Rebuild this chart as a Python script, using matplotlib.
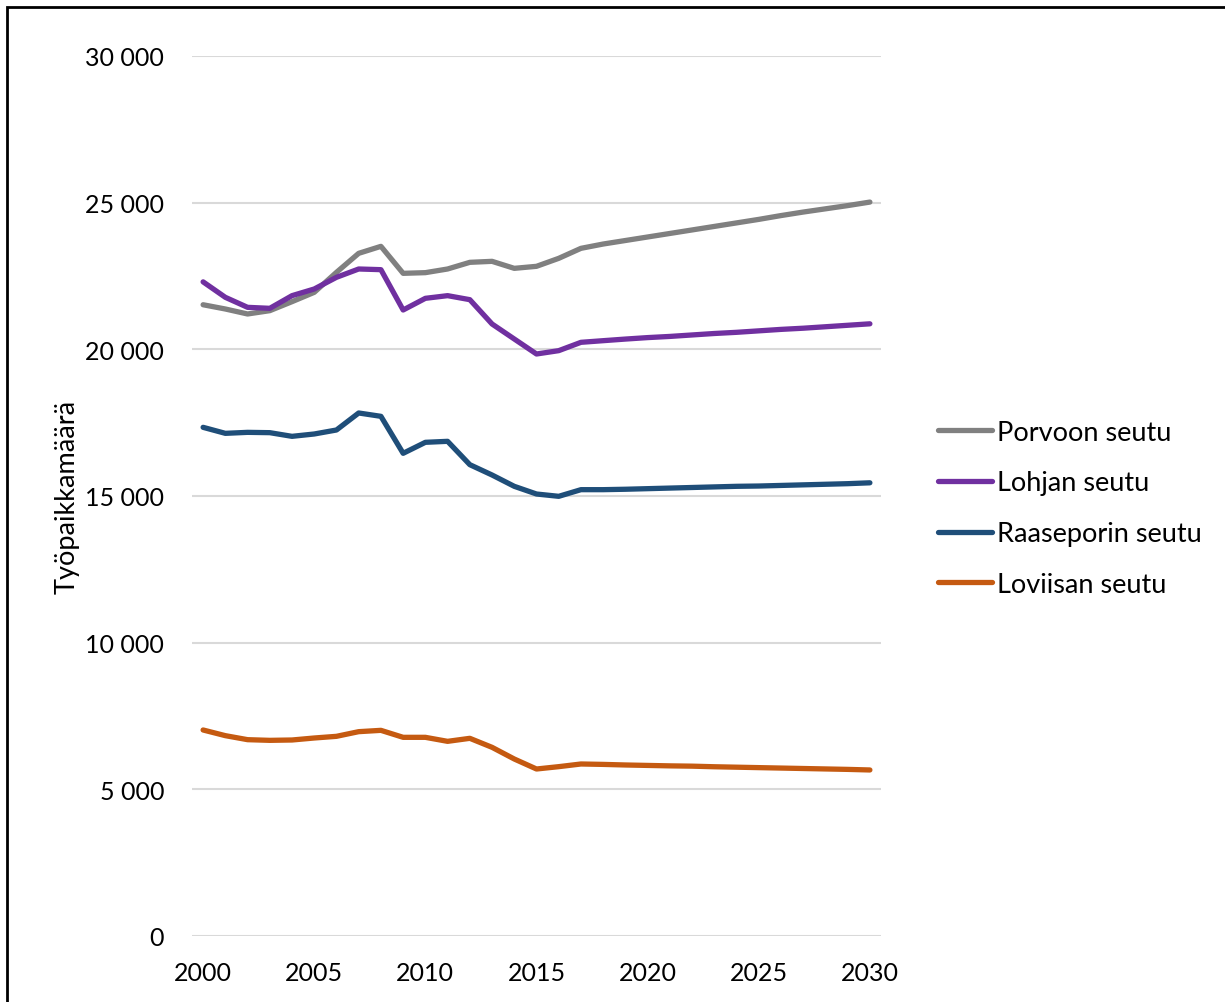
import matplotlib.pyplot as plt
from matplotlib.patches import Rectangle
from matplotlib.ticker import FuncFormatter

plt.rcParams['font.family'] = ['Lato', 'DejaVu Sans']

years = list(range(2000, 2031))

porvoo = [21520, 21375, 21205, 21318, 21625, 21943, 22625, 23273, 23511, 22591,
          22614, 22739, 22966, 23000, 22761, 22830, 23102, 23443, 23590, 23710,
          23830, 23950, 24070, 24190, 24310, 24430, 24560, 24680, 24790, 24900, 25020]
lohja = [22300, 21773, 21432, 21398, 21830, 22057, 22455, 22739, 22716, 21341,
         21739, 21830, 21693, 20864, 20352, 19841, 19955, 20239, 20295, 20350,
         20400, 20440, 20490, 20540, 20580, 20630, 20680, 20720, 20770, 20820, 20870]
raasepori = [17341, 17136, 17170, 17159, 17034, 17114, 17250, 17830, 17716, 16455,
             16830, 16864, 16068, 15716, 15330, 15068, 14989, 15216, 15216, 15230,
             15250, 15270, 15290, 15310, 15330, 15340, 15360, 15380, 15400, 15420, 15450]
loviisa = [7023, 6830, 6693, 6670, 6682, 6750, 6807, 6966, 7011, 6773,
           6773, 6636, 6739, 6432, 6034, 5693, 5773, 5864, 5850, 5830,
           5815, 5800, 5790, 5770, 5755, 5740, 5725, 5710, 5695, 5680, 5660]

series = [
    ("Porvoon seutu", porvoo, "#808080"),
    ("Lohjan seutu", lohja, "#7030A0"),
    ("Raaseporin seutu", raasepori, "#1F4E79"),
    ("Loviisan seutu", loviisa, "#C55A11"),
]

fig = plt.figure(figsize=(12.25, 10.03), dpi=100)
ax = fig.add_axes([192 / 1225, 1 - 937 / 1003, (881 - 192) / 1225, (937 - 57) / 1003])

for name, vals, color in series:
    ax.plot(years, vals, color=color, linewidth=3.8, label=name, solid_capstyle='round')

ax.set_xlim(1999.5, 2030.5)
ax.set_ylim(0, 30000)
ax.set_xticks(range(2000, 2031, 5))
ax.set_yticks(range(0, 30001, 5000))
ax.yaxis.set_major_formatter(FuncFormatter(lambda v, p: f"{int(v):,}".replace(",", " ")))
ax.grid(axis='y', color='#D9D9D9', linewidth=1.5)
ax.set_axisbelow(True)
for s in ax.spines.values():
    s.set_visible(False)
ax.tick_params(length=0, labelsize=18, colors='black')
ax.tick_params(axis='y', pad=20)
ax.tick_params(axis='x', pad=18)
ax.set_ylabel("Työpaikkamäärä", fontsize=19.5, labelpad=4)

ax.legend(loc='center left', bbox_to_anchor=(1.047, 0.486), frameon=False, fontsize=19.5,
          handlelength=2.0, handletextpad=0.18, labelspacing=0.95)

fig.patches.append(Rectangle((7 / 1225, -0.01), 1.2, 1 - 8 / 1003 + 0.01, transform=fig.transFigure,
                             fill=False, edgecolor='black', linewidth=2))

fig.savefig("out.png", dpi=100)
